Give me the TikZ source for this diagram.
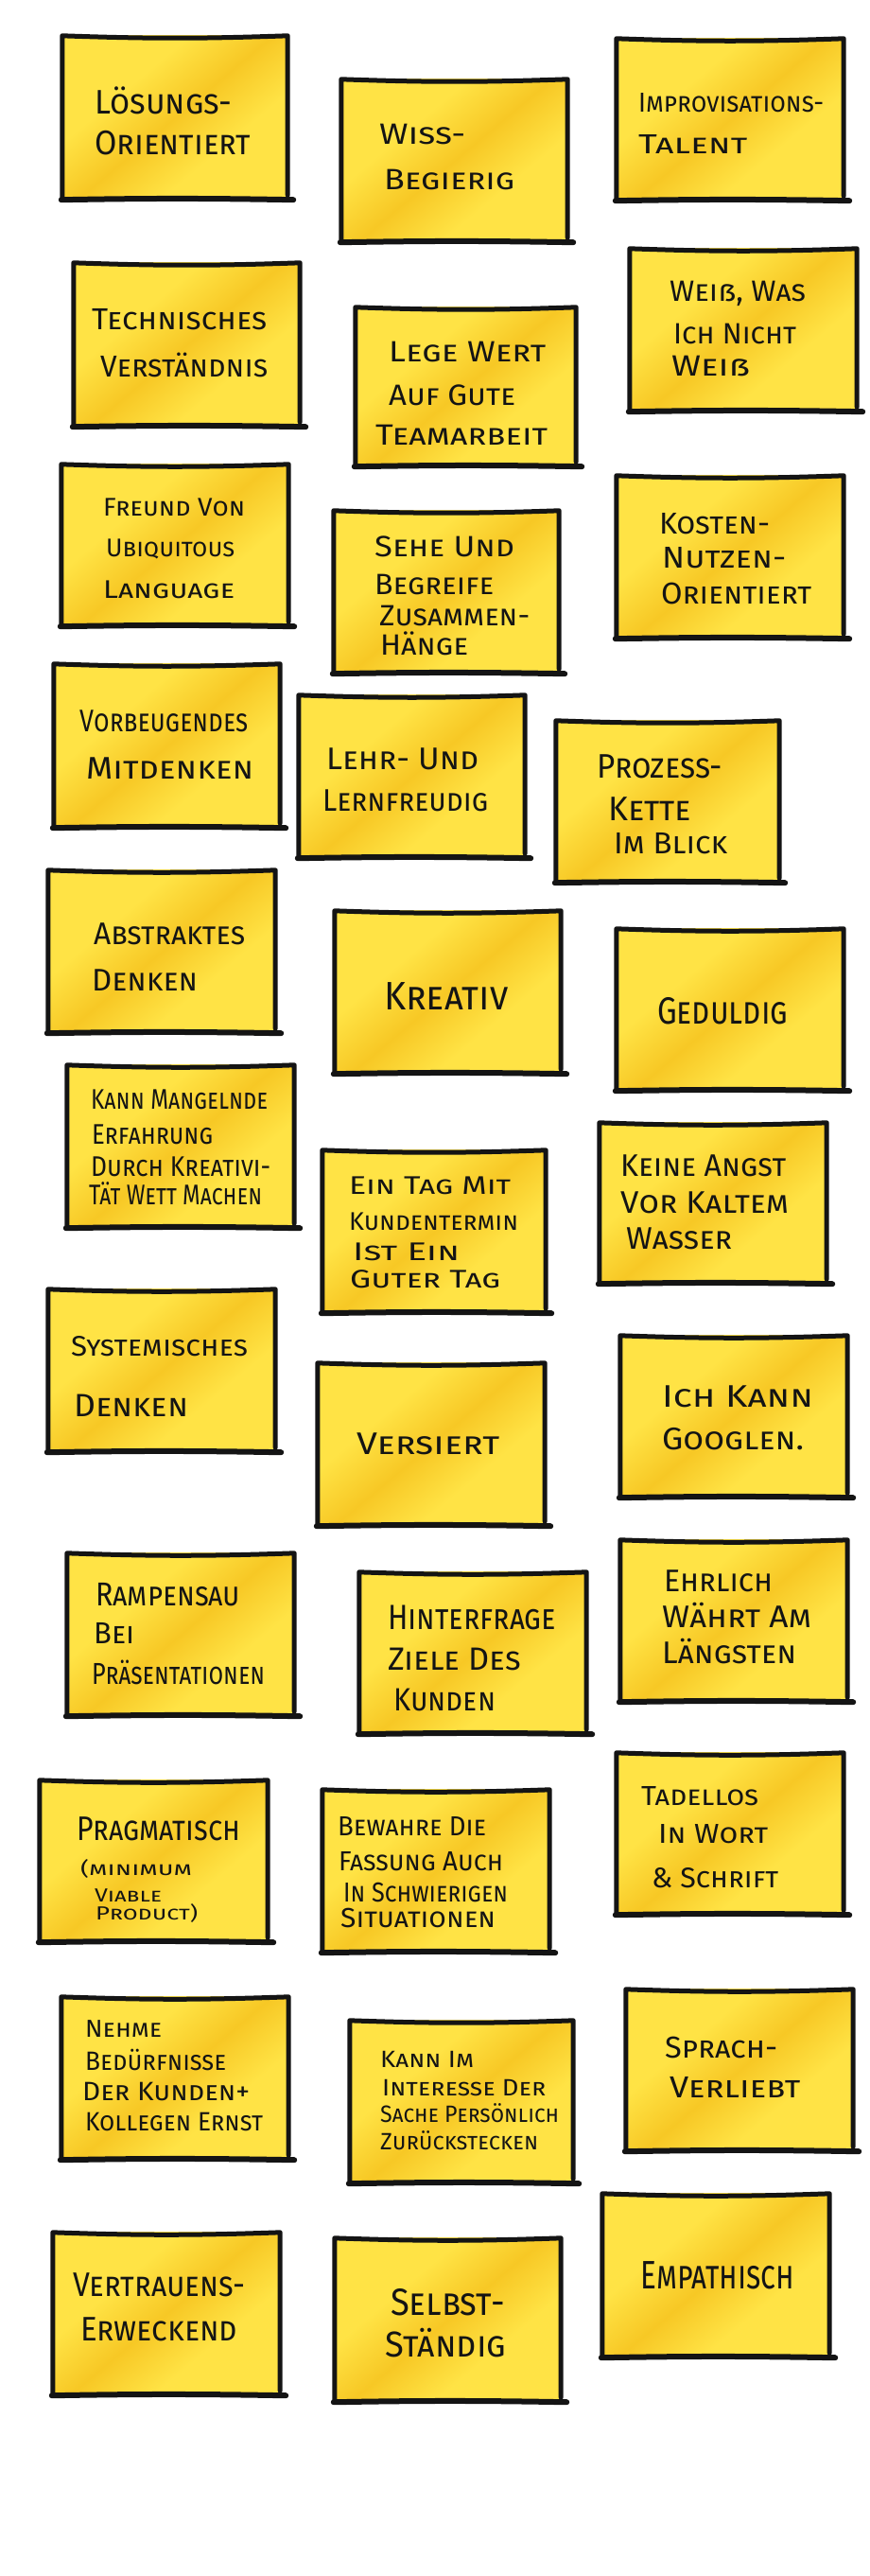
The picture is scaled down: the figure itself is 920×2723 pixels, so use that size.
\documentclass[tikz,border=0pt]{standalone}
\usepackage{fontspec}
\usepackage{graphicx}
\setmainfont{Fira Sans}
\usetikzlibrary{fit}

% sticky-note colours
\definecolor{noteyellow}{HTML}{FFE345}
\definecolor{notestreak}{HTML}{F7C825}
\definecolor{inkblack}{HTML}{141414}

% diagonal crayon band across each note
\pgfdeclareverticalshading{crayonband}{100bp}{%
  color(0bp)=(noteyellow); color(36bp)=(noteyellow);
  color(50bp)=(notestreak); color(64bp)=(noteyellow);
  color(100bp)=(noteyellow)}

\tikzset{
  notearea/.style={rectangle, inner sep=0pt, draw=none},
  noteedge/.style={draw=inkblack, line width=5pt, line cap=round, line join=round},
  notebase/.style={draw=inkblack, line width=6pt, line cap=round},
  handtext/.style={anchor=base west, inner sep=0pt, text=inkblack},
}

% one sticky note: name, top-left corner, bottom-right corner
\newcommand\stickynote[3]{%
  \node[notearea, fit={(#2) (#3)}] (#1) {};
  \shade[shading=crayonband, shading angle=40] (#1.north west) rectangle (#1.south east);
  \draw[noteedge] (#1.south west) -- (#1.north west)
     to[bend right=2] (#1.north east) -- ([yshift=5pt]#1.south east);
  \draw[notebase] ([xshift=-1pt]#1.south west) to[bend left=1] ([xshift=6pt]#1.south east);
}

% one handwritten line: name, baseline start, size, width, text
\newcommand\hw[5]{%
  \node[handtext, font=\fontsize{#3pt}{#3pt}\selectfont\scshape] (#1) at (#2)
    {\resizebox{#4pt}{\height}{#5}};
}

\begin{document}
\begin{tikzpicture}[x=1pt, y=-1pt]
\fill[white] (0,0) rectangle (920,2723);
\useasboundingbox (0,0) rectangle (920,2723);

% ---- notes ----
\stickynote{n1}{66,38}{304,211}
\stickynote{n2}{361,84}{600,256}
\stickynote{n3}{652,41}{892,212}
\stickynote{n4}{78,278}{317,451}
\stickynote{n5}{666,263}{906,435}
\stickynote{n6}{376,325}{609,493}
\stickynote{n7}{65,491}{305,662}
\stickynote{n8}{353,540}{591,712}
\stickynote{n9}{652,503}{892,675}
\stickynote{n10}{57,702}{296,875}
\stickynote{n11}{316,735}{555,907}
\stickynote{n12}{588,762}{824,933}
\stickynote{n13}{51,920}{291,1092}
\stickynote{n14}{354,963}{593,1135}
\stickynote{n15}{652,982}{892,1153}
\stickynote{n16}{71,1126}{311,1298}
\stickynote{n17}{341,1216}{577,1388}
\stickynote{n18}{634,1187}{874,1357}
\stickynote{n19}{51,1363}{291,1535}
\stickynote{n20}{336,1441}{576,1613}
\stickynote{n21}{656,1412}{896,1583}
\stickynote{n22}{71,1642}{311,1814}
\stickynote{n23}{380,1662}{620,1833}
\stickynote{n24}{656,1628}{896,1799}
\stickynote{n25}{42,1882}{283,2053}
\stickynote{n26}{341,1892}{581,2064}
\stickynote{n27}{652,1853}{892,2024}
\stickynote{n28}{65,2111}{305,2283}
\stickynote{n29}{370,2136}{606,2308}
\stickynote{n30}{662,2103}{902,2274}
\stickynote{n31}{56,2360}{296,2532}
\stickynote{n32}{354,2366}{593,2539}
\stickynote{n33}{637,2319}{877,2492}

% ---- handwriting ----
\hw{t1a}{100,120}{36}{145}{Lösungs-}
\hw{t1b}{100,163}{36}{165}{Orientiert}

\hw{t2a}{401,152}{31}{91}{Wiss-}
\hw{t2b}{406,200}{31}{138}{Begierig}

\hw{t3a}{675,118}{29}{196}{Improvisations-}
\hw{t3b}{675,162}{29}{115}{Talent}

\hw{t4a}{97,348}{32}{185}{Technisches}
\hw{t4b}{106,398}{32}{177}{Verständnis}

\hw{t5a}{708,318}{31}{144}{Weiß, Was}
\hw{t5b}{712,363}{31}{130}{Ich Nicht}
\hw{t5c}{710,397}{31}{83}{Weiß}

\hw{t6a}{411,382}{31}{166}{Lege Wert}
\hw{t6b}{411,428}{31}{134}{Auf Gute}
\hw{t6c}{397,470}{31}{182}{Teamarbeit}

\hw{t7a}{109,545}{27}{150}{Freund Von}
\hw{t7b}{112,588}{27}{136}{Ubiquitous}
\hw{t7c}{109,632}{27}{139}{Language}

\hw{t8a}{396,588}{31}{148}{Sehe Und}
\hw{t8b}{396,628}{31}{126}{Begreife}
\hw{t8c}{401,661}{31}{159}{Zusammen-}
\hw{t8d}{402,692}{31}{93}{Hänge}

\hw{t9a}{697,564}{32}{117}{Kosten-}
\hw{t9b}{700,600}{32}{131}{Nutzen-}
\hw{t9c}{699,638}{32}{159}{Orientiert}

\hw{t10a}{84,773}{33}{178}{Vorbeugendes}
\hw{t10b}{91,823}{33}{177}{Mitdenken}

\hw{t11a}{345,813}{33}{161}{Lehr- Und}
\hw{t11b}{341,857}{33}{175}{Lernfreudig}

\hw{t12a}{631,822}{36}{133}{Prozess-}
\hw{t12b}{643,867}{36}{88}{Kette}
\hw{t12c}{649,902}{32}{120}{Im Blick}

\hw{t13a}{99,998}{33}{160}{Abstraktes}
\hw{t13b}{97,1047}{33}{112}{Denken}

\hw{t14a}{406,1067}{42}{131}{Kreativ}

\hw{t15a}{695,1082}{40}{138}{Geduldig}

\hw{t16a}{96,1172}{30}{187}{Kann Mangelnde}
\hw{t16b}{97,1209}{30}{128}{Erfahrung}
\hw{t16c}{96,1243}{30}{190}{Durch Kreativi-}
\hw{t16d}{94,1273}{30}{183}{Tät Wett Machen}

\hw{t17a}{369,1262}{27}{171}{Ein Tag Mit}
\hw{t17b}{369,1300}{27}{179}{Kundentermin}
\hw{t17c}{373,1332}{27}{113}{Ist Ein}
\hw{t17d}{370,1361}{27}{159}{Guter Tag}

\hw{t18a}{656,1243}{33}{175}{Keine Angst}
\hw{t18b}{656,1282}{33}{178}{Vor Kaltem}
\hw{t18c}{662,1320}{33}{112}{Wasser}

\hw{t19a}{75,1433}{30}{187}{Systemisches}
\hw{t19b}{78,1497}{34}{121}{Denken}

\hw{t20a}{377,1537}{33}{151}{Versiert}

\hw{t21a}{700,1487}{33}{160}{Ich Kann}
\hw{t21b}{700,1532}{33}{150}{Googlen.}

\hw{t22a}{101,1697}{35}{153}{Rampensau}
\hw{t22b}{99,1737}{32}{43}{Bei}
\hw{t22c}{97,1780}{32}{183}{Präsentationen}

\hw{t23a}{410,1722}{37}{178}{Hinterfrage}
\hw{t23b}{410,1765}{34}{141}{Ziele Des}
\hw{t23c}{416,1808}{34}{108}{Kunden}

\hw{t24a}{702,1682}{33}{115}{Ehrlich}
\hw{t24b}{700,1720}{33}{158}{Währt Am}
\hw{t24c}{700,1758}{33}{142}{Längsten}

\hw{t25a}{81,1945}{36}{173}{Pragmatisch}
\hw{t25b}{85,1982}{20}{118}{(minimum}
\hw{t25c}{100,2010}{20}{71}{Viable}
\hw{t25d}{101,2029}{20}{108}{Product)}

\hw{t26a}{357,1940}{29}{157}{Bewahre Die}
\hw{t26b}{358,1977}{29}{174}{Fassung Auch}
\hw{t26c}{363,2010}{29}{174}{In Schwierigen}
\hw{t26d}{360,2037}{29}{164}{Situationen}

\hw{t27a}{678,1908}{29}{124}{Tadellos}
\hw{t27b}{696,1948}{29}{116}{In Wort}
\hw{t27c}{689,1995}{30}{134}{\& Schrift}

\hw{t28a}{90,2153}{26}{81}{Nehme}
\hw{t28b}{90,2188}{28}{149}{Bedürfnisse}
\hw{t28c}{87,2220}{28}{177}{Der Kunden+}
\hw{t28d}{90,2252}{28}{188}{Kollegen Ernst}

\hw{t29a}{402,2185}{25}{99}{Kann Im}
\hw{t29b}{404,2215}{25}{173}{Interesse Der}
\hw{t29c}{402,2243}{25}{189}{Sache Persönlich}
\hw{t29d}{402,2272}{25}{167}{Zurückstecken}

\hw{t30a}{703,2175}{32}{119}{Sprach-}
\hw{t30b}{708,2217}{32}{138}{Verliebt}

\hw{t31a}{77,2427}{36}{182}{Vertrauens-}
\hw{t31b}{85,2474}{36}{166}{Erweckend}

\hw{t32a}{413,2447}{40}{121}{Selbst-}
\hw{t32b}{407,2491}{38}{128}{Ständig}

\hw{t33a}{677,2419}{42}{163}{Empathisch}
\end{tikzpicture}
\end{document}
